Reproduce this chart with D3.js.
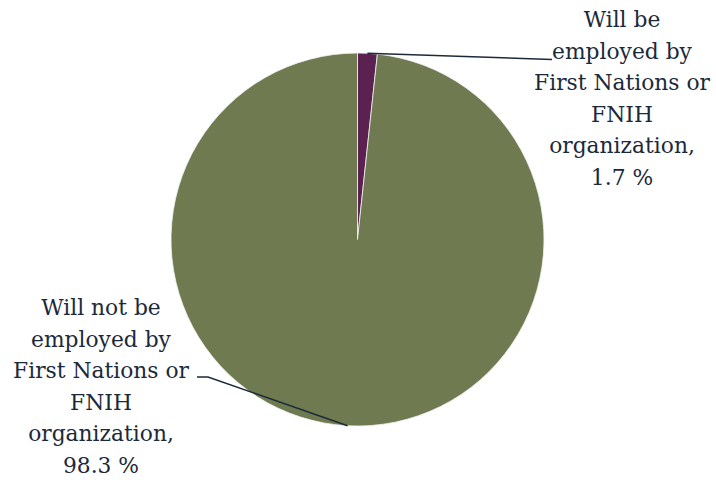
<!DOCTYPE html>
<html>
<head>
<meta charset="utf-8">
<script src="https://cdn.jsdelivr.net/npm/d3@7"></script>
<style>
  html, body { margin: 0; padding: 0; background: #ffffff; }
  svg { display: block; }
</style>
</head>
<body>
<svg id="chart" width="716" height="480"></svg>
<script>
// Share of respondents by future employer
const categories = [
  "Will be employed by First Nations or FNIH organization",
  "Will not be employed by First Nations or FNIH organization"
];
const values = [1.7, 98.3];
const sliceColors = ["#5b2151", "#6f7a50"];
const labelLines = [
  ["Will be", "employed by", "First Nations or", "FNIH", "organization,", "1.7 %"],
  ["Will not be", "employed by", "First Nations or", "FNIH", "organization,", "98.3 %"]
];

const svg = d3.select("#chart");
const cx = 357.5, cy = 239.5, radius = 186.5;
const textColor = "#1b2a3a";
const fontFamily = "'DejaVu Serif', serif";

// size the label font so the widest line spans about 176px
const probe = svg.append("text")
  .attr("font-family", fontFamily)
  .attr("font-size", 20)
  .text("First Nations or");
const fontSize = 20 * 176 / probe.node().getComputedTextLength();
probe.remove();

const pie = d3.pie().sort(null).value(d => d)(values);
const arc = d3.arc().innerRadius(0).outerRadius(radius);

const g = svg.append("g").attr("transform", `translate(${cx},${cy})`);
g.selectAll("path.slice")
  .data(pie)
  .join("path")
  .attr("class", "slice")
  .attr("d", arc)
  .attr("fill", (d, i) => sliceColors[i])
  .attr("stroke", "#f2f2f2")
  .attr("stroke-width", 0.8);

// point on the outer edge at the middle of each slice
function edgePoint(d) {
  const a = (d.startAngle + d.endAngle) / 2;
  return [cx + radius * Math.sin(a), cy - radius * Math.cos(a)];
}

// label placement: centre x, first baseline, line gap, leader path
const layout = [
  { x: 622, y: 27, gap: 31.5, leader: p => [p, [552, 59.5]] },
  { x: 101, y: 315, gap: 31.6, leader: p => [p, [208, 377], [197, 377]] }
];

pie.forEach((d, i) => {
  const L = layout[i];
  const p = edgePoint(d);
  svg.append("path")
    .attr("d", d3.line()(L.leader(p)))
    .attr("fill", "none")
    .attr("stroke", textColor)
    .attr("stroke-width", 1.5);

  const t = svg.append("text")
    .attr("text-anchor", "middle")
    .attr("font-family", fontFamily)
    .attr("font-size", fontSize)
    .attr("fill", textColor);
  labelLines[i].forEach((line, k) => {
    t.append("tspan")
      .attr("x", L.x)
      .attr("y", L.y + k * L.gap)
      .text(line);
  });
});
</script>
</body>
</html>
